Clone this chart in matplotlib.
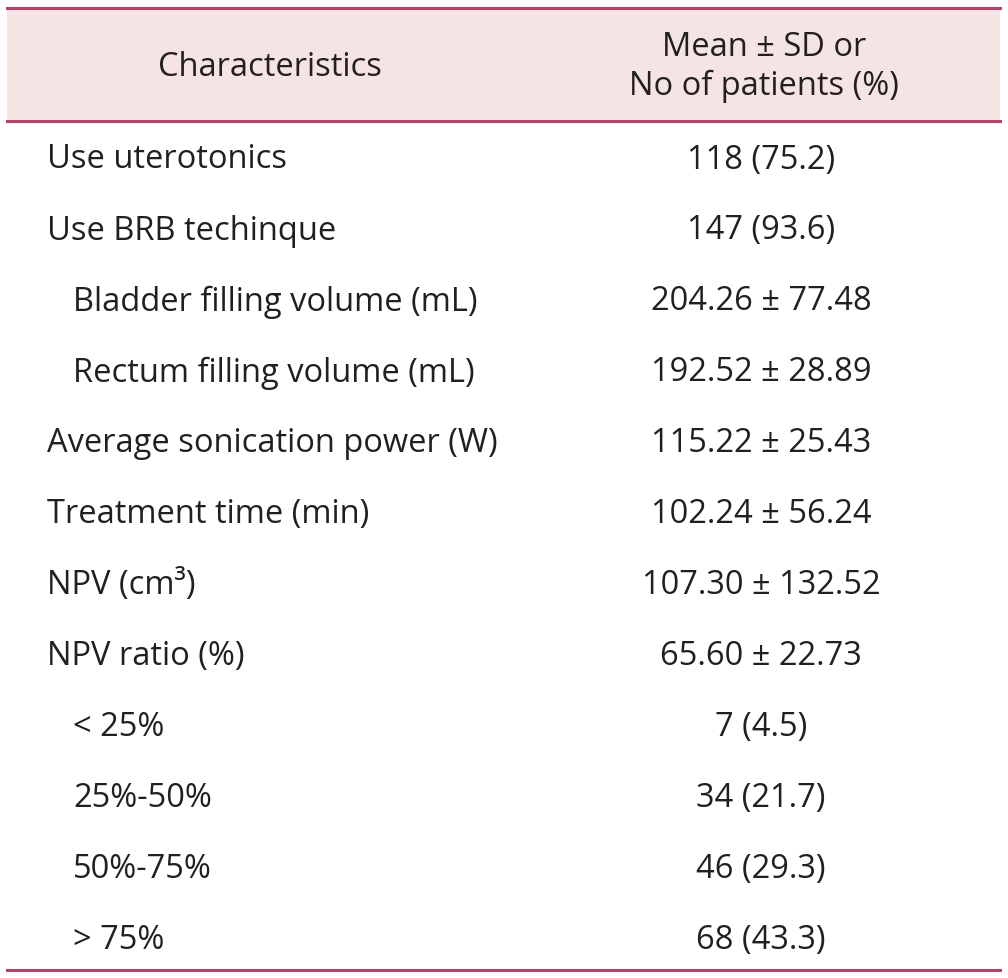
import matplotlib
matplotlib.use("Agg")
import matplotlib.pyplot as plt

plt.rcParams['font.family'] = ['Open Sans', 'DejaVu Sans']

# table contents
header_left = "Characteristics"
header_right = "Mean ± SD or\nNo of patients (%)"
labels = ["Use uterotonics", "Use BRB techinque", "Bladder filling volume (mL)",
          "Rectum filling volume (mL)", "Average sonication power (W)",
          "Treatment time (min)", "NPV (cm³)", "NPV ratio (%)",
          "< 25%", "25%-50%", "50%-75%", "> 75%"]
indent = [0, 0, 1, 1, 0, 0, 0, 0, 1, 1, 1, 1]
values = ["118 (75.2)", "147 (93.6)", "204.26 ± 77.48", "192.52 ± 28.89",
          "115.22 ± 25.43", "102.24 ± 56.24", "107.30 ± 132.52", "65.60 ± 22.73",
          "7 (4.5)", "34 (21.7)", "46 (29.3)", "68 (43.3)"]

W, H = 1008, 979
fig = plt.figure(figsize=(W/100, H/100), dpi=100)
ax = fig.add_axes([0, 0, 1, 1])
ax.set_xlim(0, W)
ax.set_ylim(H, 0)
ax.axis('off')

line_col = '#b2456b'
txt_col = '#231f20'
fs = 23.5

# header band
ax.fill_between([7, 1000], 9, 122, color='#f4e4e4', lw=0)
ax.plot([7, 1000], [9, 9], color=line_col, lw=2.2)
ax.plot([7, 1000], [122, 122], color=line_col, lw=2.2)
ax.plot([7, 1000], [971, 971], color=line_col, lw=2.2)

ax.text(270, 67, header_left, ha='center', va='center', fontsize=fs, color=txt_col)
ax.text(764, 67, header_right, ha='center', va='center', fontsize=fs, color=txt_col,
        linespacing=1.25)

y0, dy = 160, 71
for i, (lab, ind, val) in enumerate(zip(labels, indent, values)):
    y = y0 + i*dy
    ax.text(47 + 26*ind, y, lab, ha='left', va='center', fontsize=fs, color=txt_col)
    ax.text(761, y, val, ha='center', va='center', fontsize=fs, color=txt_col)

fig.savefig('out.png', dpi=100)
